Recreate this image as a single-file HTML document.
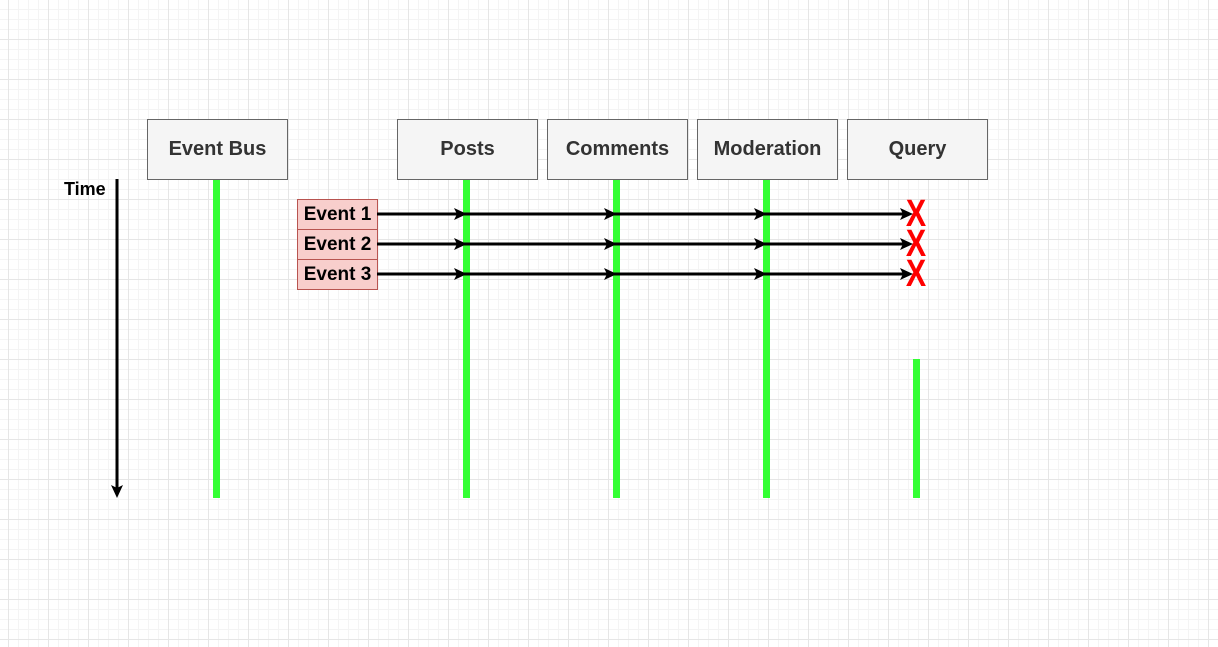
<!DOCTYPE html>
<html><head><style>
body{margin:0;width:1218px;height:647px;overflow:hidden;background:#fff;
background-image:
linear-gradient(#e6e6e6 1px,transparent 1px),
linear-gradient(90deg,#e6e6e6 1px,transparent 1px),
linear-gradient(#f4f4f4 1px,transparent 1px),
linear-gradient(90deg,#f4f4f4 1px,transparent 1px);
background-size:40px 40px,40px 40px,10px 10px,10px 10px;
background-position:0 -1px,8px 0,0 -1px,8px 0;
font-family:"Liberation Sans",sans-serif;position:relative}
.b{position:absolute;top:119px;width:139px;height:59px;background:#f5f5f5;border:1px solid #666;
display:flex;align-items:center;justify-content:center;font-weight:bold;font-size:20px;color:#333}
.g{position:absolute;width:7px;background:#33ff33;top:179px;height:319px}
.e{position:absolute;left:297px;width:79px;height:29px;background:#f8cecc;border:1px solid #b85450;
display:flex;align-items:center;justify-content:center;font-weight:bold;font-size:19px;color:#000}
.x{position:absolute;left:901px;width:30px;text-align:center;color:#f00;font-weight:bold;font-size:38px;line-height:30px;transform:scaleX(0.8)}
</style></head><body>
<div class="g" style="left:213px"></div>
<div class="g" style="left:463px"></div>
<div class="g" style="left:613px"></div>
<div class="g" style="left:763px"></div>
<div class="g" style="left:913px;top:359px;height:139px"></div>
<div class="b" style="left:147px">Event Bus</div>
<div class="b" style="left:397px">Posts</div>
<div class="b" style="left:547px">Comments</div>
<div class="b" style="left:697px">Moderation</div>
<div class="b" style="left:847px">Query</div>
<div class="e" style="top:199px">Event 1</div>
<div class="e" style="top:229px">Event 2</div>
<div class="e" style="top:259px">Event 3</div>
<div style="position:absolute;left:64px;top:179px;font-weight:bold;font-size:18px">Time</div>
<svg style="position:absolute;left:0;top:0" width="1218" height="647">
<g stroke="#000" stroke-width="3" fill="none">
<line x1="117" y1="179" x2="117" y2="490"/>
<line x1="377" y1="214" x2="910" y2="214"/>
<line x1="377" y1="244" x2="910" y2="244"/>
<line x1="377" y1="274" x2="910" y2="274"/>
</g>
<g fill="#000">
<path d="M111,485 L117,498 L123,485 L117,488 Z"/>
<g id="r1">
<path d="M454,208 L467,214 L454,220 L457,214 Z"/>
<path d="M604,208 L617,214 L604,220 L607,214 Z"/>
<path d="M754,208 L767,214 L754,220 L757,214 Z"/>
<path d="M900,208 L913,214 L900,220 L903,214 Z"/>
</g>
<use href="#r1" y="30"/>
<use href="#r1" y="60"/>
</g></svg>
<div class="x" style="top:199px">X</div>
<div class="x" style="top:229px">X</div>
<div class="x" style="top:259px">X</div>
</body></html>
